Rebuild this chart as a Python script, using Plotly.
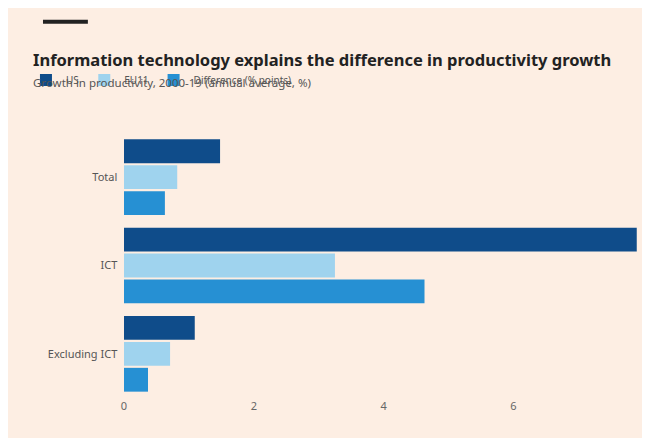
import plotly.graph_objects as go

categories = ["Total", "ICT", "Excluding ICT"]
us = [1.48, 7.9, 1.09]
eu11 = [0.82, 3.25, 0.71]
diff = [0.63, 4.63, 0.37]
tick_vals = [0, 2, 4, 6]

fig = go.Figure()
for name, vals, col in [("US", us, "#0f4c8a"), ("EU11", eu11, "#9fd3ee"),
                        ("Difference (% points)", diff, "#2690d3")]:
    fig.add_trace(go.Bar(y=categories, x=vals, name=name, orientation="h",
                         marker=dict(color=col, line=dict(width=0))))

fig.update_layout(
    width=650, height=438, barmode="group", bargap=0.12, bargroupgap=0.08,
    paper_bgcolor="#fdeee3", plot_bgcolor="#fdeee3",
    margin=dict(l=116, r=18, t=125, b=48),
    font=dict(family="Noto Sans", color="#555", size=11),
    legend=dict(orientation="h", x=-0.19, y=1.2, xanchor="left", yanchor="middle",
                traceorder="normal", font=dict(size=10), itemwidth=30),
    xaxis=dict(range=[0, 7.95], tickvals=tick_vals, showgrid=False, zeroline=False,
               ticks="", tickfont=dict(size=11, color="#666")),
    yaxis=dict(autorange="reversed", showgrid=False, ticks="", ticksuffix="  ",
               tickfont=dict(size=11, color="#555")),
    shapes=[dict(type="line", xref="paper", yref="paper", x0=-0.157, x1=-0.07,
                 y0=1.42, y1=1.42, line=dict(color="#222", width=4))],
    annotations=[
        dict(text="<b>Information technology explains the difference in productivity growth</b>",
             xref="paper", yref="paper", x=-0.18, y=1.33, xanchor="left", showarrow=False,
             font=dict(size=16.5, color="#222")),
        dict(text="Growth in productivity, 2000-19 (annual average, %)",
             xref="paper", yref="paper", x=-0.18, y=1.225, xanchor="left", showarrow=False,
             font=dict(size=11.5, color="#555")),
        dict(text="Source: Paul Krugman", xref="paper", yref="paper", x=-0.18, y=-0.16,
             xanchor="left", yanchor="top", showarrow=False, font=dict(size=10, color="#555")),
    ],
)
fig.write_html("out.html")
